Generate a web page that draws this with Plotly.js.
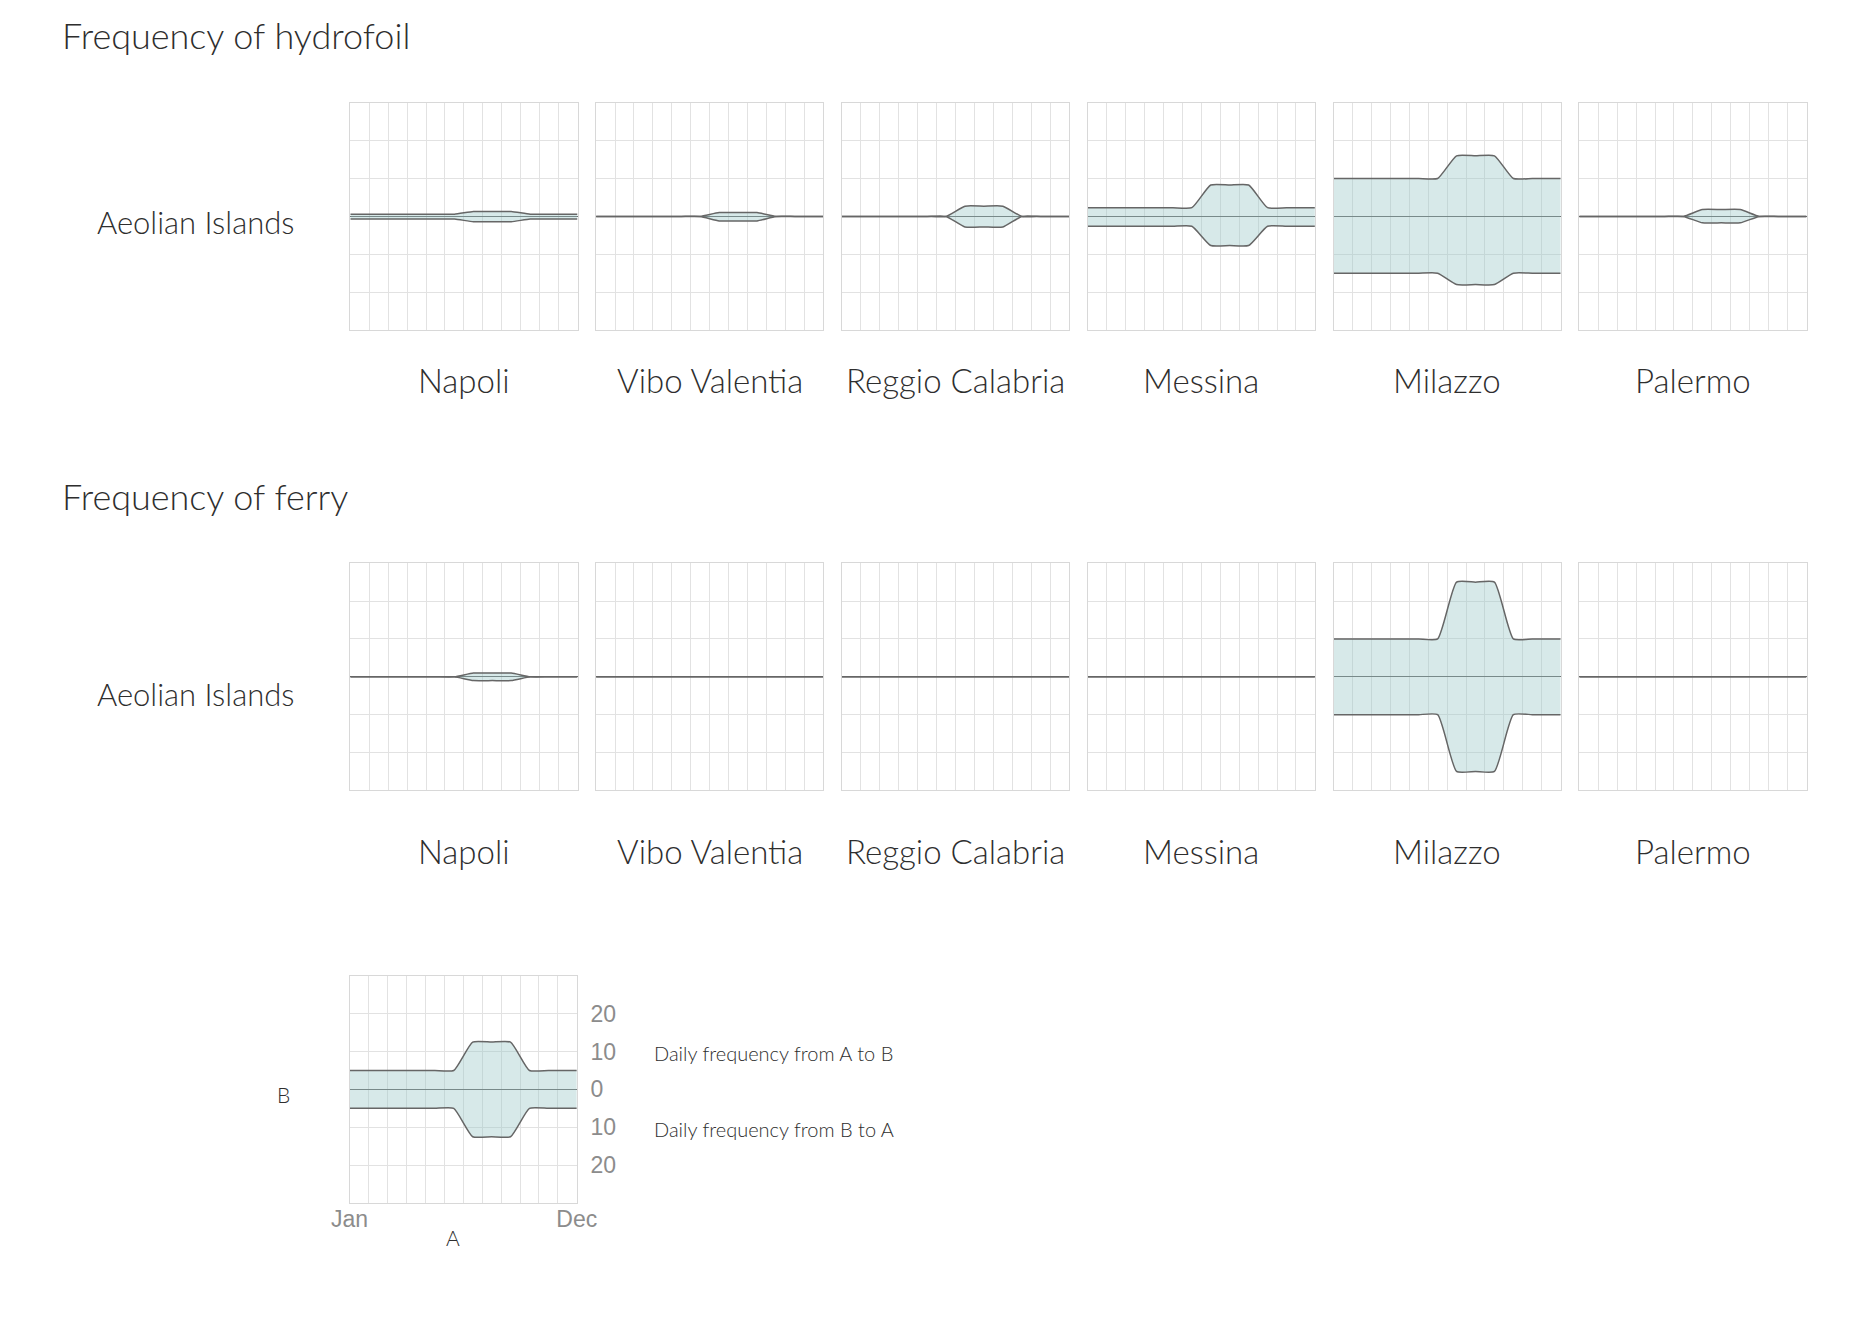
<!DOCTYPE html>
<html><head><meta charset="utf-8">
<script src="https://cdn.plot.ly/plotly-3.0.1.min.js"></script>
<style>html,body{margin:0;padding:0;background:#fff}#chart{width:1875px;height:1326px}</style>
</head><body><div id="chart"></div>
<script>
// ---- data ----
const months = ['Jan','Feb','Mar','Apr','May','Jun','Jul','Aug','Sep','Oct','Nov','Dec'];
const ports = ['Napoli','Vibo Valentia','Reggio Calabria','Messina','Milazzo','Palermo'];
const destination = 'Aeolian Islands';
// daily frequency port (A) -> Aeolian Islands (B), per month
const hydrofoilAtoB = [
  [0.6,0.6,0.6,0.6,0.6,0.6,1.3,1.3,1.3,0.6,0.6,0.6],
  [0,0,0,0,0,0,1.0,1.0,1.0,0,0,0],
  [0,0,0,0,0,0,2.7,2.7,2.7,0,0,0],
  [2.3,2.3,2.3,2.3,2.3,2.3,8.3,8.3,8.3,2.3,2.3,2.3],
  [10,10,10,10,10,10,16,16,16,10,10,10],
  [0,0,0,0,0,0,1.8,1.8,1.8,0,0,0]
];
// daily frequency Aeolian Islands (B) -> port (A), per month
const hydrofoilBtoA = [
  [0.7,0.7,0.7,0.7,0.7,0.7,1.4,1.4,1.4,0.7,0.7,0.7],
  [0,0,0,0,0,0,1.2,1.2,1.2,0,0,0],
  [0,0,0,0,0,0,2.8,2.8,2.8,0,0,0],
  [2.6,2.6,2.6,2.6,2.6,2.6,7.7,7.7,7.7,2.6,2.6,2.6],
  [15,15,15,15,15,15,18,18,18,15,15,15],
  [0,0,0,0,0,0,1.7,1.7,1.7,0,0,0]
];
const ferryAtoB = [
  [0,0,0,0,0,0,1.0,1.0,1.0,0,0,0],
  [0,0,0,0,0,0,0,0,0,0,0,0],
  [0,0,0,0,0,0,0,0,0,0,0,0],
  [0,0,0,0,0,0,0,0,0,0,0,0],
  [10,10,10,10,10,10,25,25,25,10,10,10],
  [0,0,0,0,0,0,0,0,0,0,0,0]
];
const ferryBtoA = [
  [0,0,0,0,0,0,1.0,1.0,1.0,0,0,0],
  [0,0,0,0,0,0,0,0,0,0,0,0],
  [0,0,0,0,0,0,0,0,0,0,0,0],
  [0,0,0,0,0,0,0,0,0,0,0,0],
  [10,10,10,10,10,10,25,25,25,10,10,10],
  [0,0,0,0,0,0,0,0,0,0,0,0]
];
const exampleAtoB = [5,5,5,5,5,5,12.5,12.5,12.5,5,5,5];
const exampleBtoA = [5,5,5,5,5,5,12.5,12.5,12.5,5,5,5];
const legendYTickVals = [-20,-10,0,10,20];
const legendYTickText = ['20','10','0','10','20'];
const legendXTickText = ['Jan','','','','','','','','','','','','Dec'];

// ---- layout helpers ----
const W = 1875, H = 1326;
const fx = v => v / W;
const fy = v => 1 - v / H;
const panelLeft0 = 350.3, panelStep = 245.8, panelW = 227.2, panelH = 227.2;
const rowTops = [102.8, 563.2];
const legendLeft = 349.6, legendTop = 975.8;

const GRID = '#e2e2e2', BORDER = '#d8d8d8', LINE = '#666666';
const FILL = 'rgba(150,196,196,0.38)';
const TEXT = '#2e2e2e';
const FONT = 'Lato, "Open Sans", sans-serif';
const TICKFONT = '"Liberation Sans", Arial, sans-serif';

// positions of the monthly values on the axis (month centres), extended to panel edges
const monthX = [0].concat(months.map((m, i) => i + 0.5), [months.length]);
const extend = v => [v[0]].concat(v, [v[v.length - 1]]);

const traces = [];
const layout = {
  width: W, height: H,
  margin: {l: 0, r: 0, t: 0, b: 0},
  paper_bgcolor: '#fff', plot_bgcolor: 'rgba(0,0,0,0)',
  showlegend: false,
  hovermode: false,
  font: {family: FONT, color: TEXT},
  annotations: []
};

let axisCount = 0;
function addPanel(left, top, ab, ba, isLegend) {
  axisCount++;
  const n = axisCount === 1 ? '' : String(axisCount);
  const xa = 'x' + n, ya = 'y' + n;
  const xdom = [fx(left), fx(left + panelW)];
  const ydom = [fy(top + panelH), fy(top)];
  const xaxis = {
    domain: xdom, anchor: ya, range: [0, 12], tick0: 0, dtick: 1,
    showgrid: true, gridcolor: GRID, gridwidth: 1, zeroline: false,
    showline: true, mirror: true, linecolor: BORDER, linewidth: 1,
    showticklabels: false, ticks: '', fixedrange: true
  };
  const yaxis = {
    domain: ydom, anchor: xa, range: [-30, 30], tick0: 0, dtick: 10,
    showgrid: true, gridcolor: GRID, gridwidth: 1,
    zeroline: true, zerolinecolor: LINE, zerolinewidth: 1.3,
    showline: true, mirror: true, linecolor: BORDER, linewidth: 1,
    showticklabels: false, ticks: '', fixedrange: true
  };
  if (isLegend) {
    xaxis.tickmode = 'array';
    xaxis.tickvals = legendXTickText.map((t, i) => i);
    xaxis.ticktext = legendXTickText;
    xaxis.showticklabels = true;
    xaxis.ticklabelstandoff = -5;
    xaxis.tickfont = {family: TICKFONT, size: 23, color: '#8c8c8c'};
    yaxis.tickmode = 'array';
    yaxis.tickvals = legendYTickVals;
    yaxis.ticktext = legendYTickText;
    yaxis.side = 'right';
    yaxis.showticklabels = true;
    yaxis.ticklabelstandoff = 8;
    yaxis.tickfont = {family: TICKFONT, size: 23, color: '#8c8c8c'};
  }
  layout['xaxis' + n] = xaxis;
  layout['yaxis' + n] = yaxis;
  const lineStyle = {color: LINE, width: 1.5, shape: 'spline', smoothing: 0.5};
  traces.push({type: 'scatter', mode: 'lines', x: monthX, y: extend(ab), xaxis: xa, yaxis: ya,
    line: lineStyle, hoverinfo: 'skip', cliponaxis: true});
  traces.push({type: 'scatter', mode: 'lines', x: monthX, y: extend(ba).map(v => -v), xaxis: xa, yaxis: ya,
    line: lineStyle, fill: 'tonexty', fillcolor: FILL, hoverinfo: 'skip', cliponaxis: true});
}

function text(t, x, y, size, xanchor) {
  layout.annotations.push({
    text: t, xref: 'paper', yref: 'paper', x: fx(x), y: fy(y),
    xanchor: xanchor || 'center', yanchor: 'middle', showarrow: false,
    font: {family: FONT, size: size, color: TEXT, weight: 300}
  });
}

const sections = [
  {title: 'Frequency of hydrofoil', ab: hydrofoilAtoB, ba: hydrofoilBtoA, titleY: 35, top: rowTops[0], rowLabelY: 222, labelY: 380},
  {title: 'Frequency of ferry', ab: ferryAtoB, ba: ferryBtoA, titleY: 496, top: rowTops[1], rowLabelY: 694, labelY: 851}
];
sections.forEach(s => {
  text(s.title, 60, s.titleY, 36, 'left');
  text(destination, 95, s.rowLabelY, 31, 'left');
  ports.forEach((p, i) => {
    const left = panelLeft0 + i * panelStep;
    addPanel(left, s.top, s.ab[i], s.ba[i], false);
    text(p, left + panelW / 2, s.labelY, 33, 'center');
  });
});

// legend / key panel
addPanel(legendLeft, legendTop, exampleAtoB, exampleBtoA, true);
text('B', 283, 1094, 21, 'center');
text('A', 453, 1237, 21, 'center');
text('Daily frequency from A to B', 652, 1053, 20, 'left');
text('Daily frequency from B to A', 652, 1129, 20, 'left');

Plotly.newPlot('chart', traces, layout, {staticPlot: true, displayModeBar: false});
</script>
</body></html>
